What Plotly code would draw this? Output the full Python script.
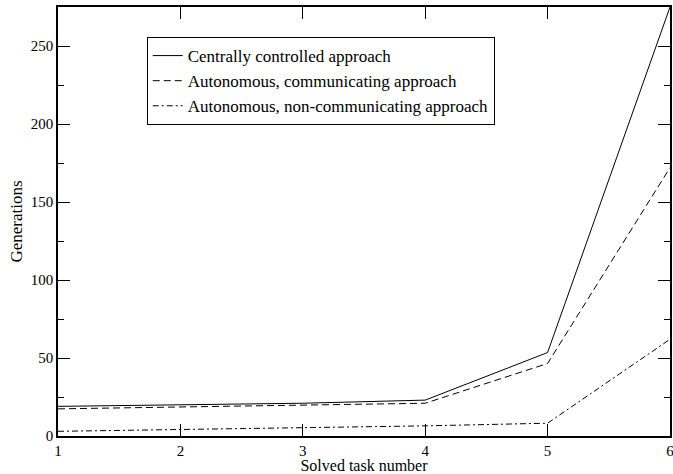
import plotly.graph_objects as go

tasks = [1, 2, 3, 4, 5, 6]
central = [19, 20, 21, 23, 53.5, 275]
auto_comm = [17.4, 18.5, 19.5, 21, 46.5, 172]
auto_noncomm = [3, 4.2, 5.2, 6.5, 8.2, 62]

names = ["Centrally controlled approach",
         "Autonomous, communicating approach",
         "Autonomous, non-communicating approach"]
dashes = ["solid", "7px,4px", "6px,3px,2px,3px"]

fig = go.Figure()
for ys, nm, ds in zip([central, auto_comm, auto_noncomm], names, dashes):
    fig.add_trace(go.Scatter(x=tasks, y=ys, name=nm, mode="lines",
                             line=dict(color="black", width=1, dash=ds)))

serif = "Liberation Serif, Times New Roman, serif"
font = dict(family=serif, size=15, color="black")
xtfont = dict(family=serif, size=16, color="black")
ytfont = dict(family=serif, size=17, color="black")
lfont = dict(family=serif, size=17, color="black")
fig.update_layout(
    width=673, height=474,
    margin=dict(l=58, r=3, t=7, b=38, autoexpand=False),
    paper_bgcolor="white", plot_bgcolor="white",
    font=font,
    showlegend=True,
    legend=dict(x=0.145, y=0.93, xanchor="left", yanchor="top",
                bordercolor="black", borderwidth=1, bgcolor="white",
                font=lfont, tracegroupgap=0, itemwidth=30),
)
fig.update_xaxes(range=[1, 6], tickvals=tasks, ticks="inside", ticklen=12,
                 tickcolor="black", showline=True, linecolor="black", linewidth=1.5,
                 mirror="ticks", showgrid=False, zeroline=False, automargin=False,
                 ticklabeloverflow="allow",
                 title=dict(text="Solved task number", font=xtfont, standoff=0), tickfont=font)
fig.update_yaxes(range=[0, 275], dtick=50, tick0=0, ticks="inside", ticklen=12,
                 tickcolor="black", showline=True, linecolor="black", linewidth=1.5,
                 mirror="ticks", showgrid=False, zeroline=False, automargin=False,
                 minor=dict(dtick=25, ticks="inside", ticklen=6, tickcolor="black", showgrid=False),
                 title=dict(text="Generations", font=ytfont, standoff=4), tickfont=font)
fig.write_html("out.html", config={"displayModeBar": False},
               post_script="document.body.style.margin='0';document.body.style.overflow='hidden';")
